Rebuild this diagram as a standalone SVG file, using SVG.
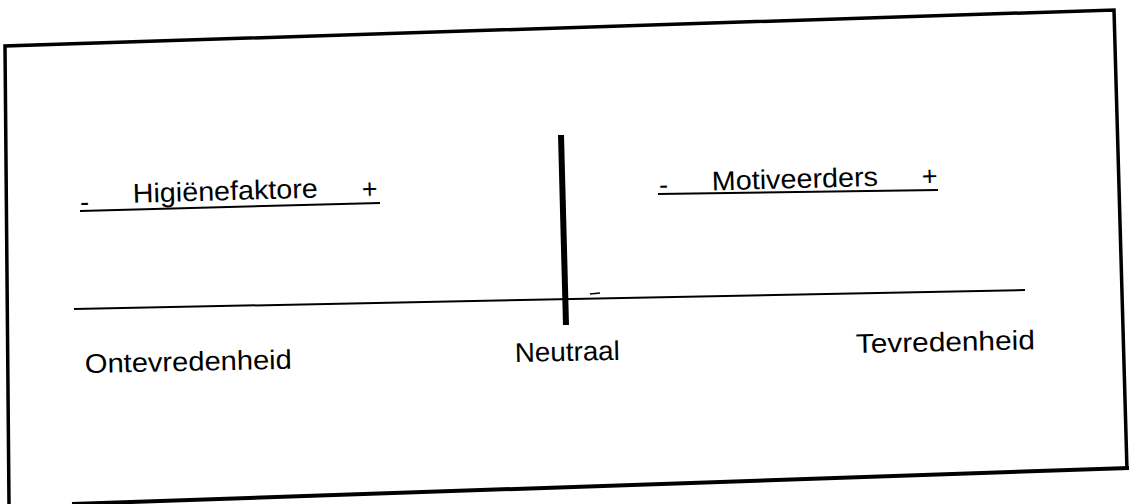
<svg xmlns="http://www.w3.org/2000/svg" width="1129" height="504" viewBox="0 0 1129 504">
<style>
.t{font-family:"Liberation Sans",Arial,sans-serif;font-size:27px;fill:#000}
.ln{stroke:#000;fill:none;stroke-linecap:butt}
</style>
<rect width="1129" height="504" fill="#fff"/>
<g id="frame">
<path class="ln" d="M9 504 L5 46 L1114 10 L1127 470" stroke-width="3.5"/>
<path class="ln" d="M72 504 L1129 468" stroke-width="4"/>
</g>
<g id="connectors">
<line class="ln" x1="74" y1="309" x2="1025" y2="290" stroke-width="2"/>
<line class="ln" x1="561" y1="135" x2="566" y2="325" stroke-width="6"/>
<line class="ln" x1="590" y1="294" x2="600" y2="293" stroke-width="1.5"/>
</g>
<g id="hygiene">
<line class="ln" x1="80" y1="211" x2="380" y2="203" stroke-width="2"/>
<g transform="rotate(-1.6 230 200)">
<text class="t" x="80" y="207">-</text>
<text class="t" x="133" y="200" textLength="185" lengthAdjust="spacingAndGlyphs">Higiënefaktore</text>
<text class="t" x="362" y="202">+</text>
</g>
</g>
<g id="motivators">
<line class="ln" x1="658" y1="194" x2="938" y2="190" stroke-width="2"/>
<g transform="rotate(-1.6 800 185)">
<text class="t" x="659" y="190">-</text>
<text class="t" x="712" y="188" textLength="166" lengthAdjust="spacingAndGlyphs">Motiveerders</text>
<text class="t" x="922" y="189">+</text>
</g>
</g>
<g id="dissatisfaction">
<text class="t" x="85" y="373" textLength="207" lengthAdjust="spacingAndGlyphs" transform="rotate(-1.2 85 372)">Ontevredenheid</text>
</g>
<g id="neutral">
<text class="t" x="515" y="362" textLength="105" lengthAdjust="spacingAndGlyphs" transform="rotate(-1.2 515 362)">Neutraal</text>
</g>
<g id="satisfaction">
<text class="t" x="856" y="353" textLength="179" lengthAdjust="spacingAndGlyphs" transform="rotate(-1.2 856 353)">Tevredenheid</text>
</g>
</svg>
